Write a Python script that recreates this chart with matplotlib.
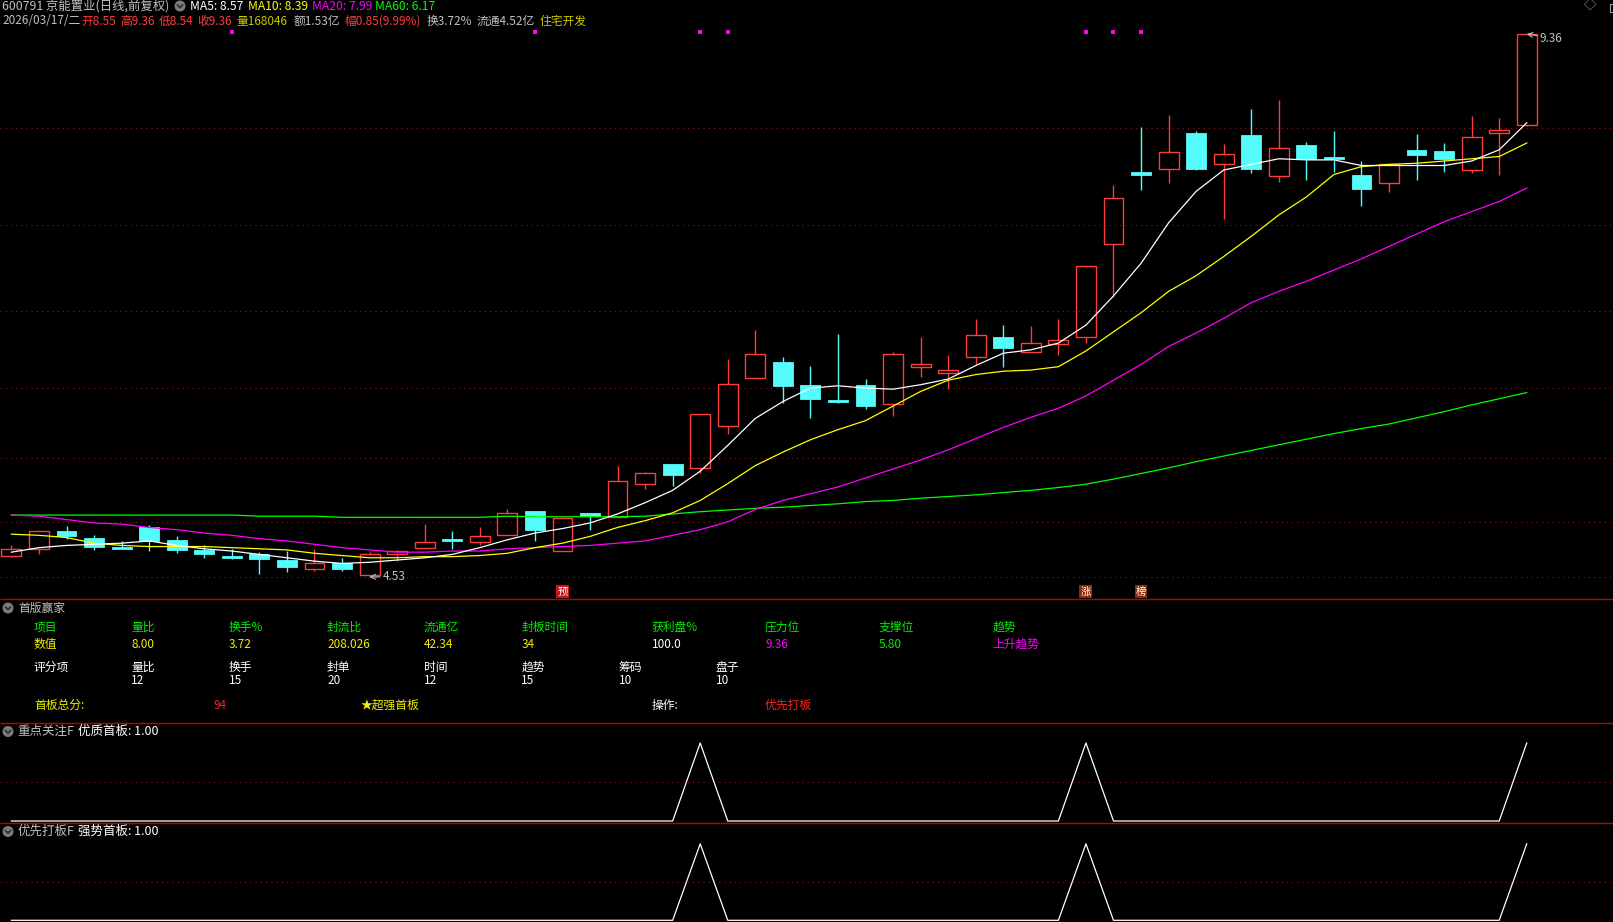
import numpy as np
import matplotlib
matplotlib.use('Agg')
import matplotlib.pyplot as plt
from matplotlib.patches import Rectangle, Circle

plt.rcParams['font.family'] = ['Noto Sans CJK SC', 'DejaVu Sans']

# daily candles, oldest first
opens = [4.72, 4.78, 4.94, 4.88, 4.80, 4.97, 4.86, 4.77, 4.72, 4.73,
         4.68, 4.60, 4.65, 4.55, 4.73, 4.79, 4.87, 4.84, 4.90, 5.12,
         4.76, 5.10, 5.06, 5.36, 5.53, 5.50, 5.87, 6.30, 6.44, 6.24,
         6.10, 6.24, 6.07, 6.40, 6.34, 6.49, 6.66, 6.53, 6.60, 6.66,
         7.49, 8.13, 8.16, 8.48, 8.20, 8.46, 8.10, 8.37, 8.27, 8.11,
         8.03, 8.33, 8.32, 8.15, 8.48, 8.55]
highs = [4.81, 4.94, 4.98, 4.90, 4.85, 4.99, 4.89, 4.81, 4.78, 4.75,
         4.76, 4.78, 4.70, 4.75, 4.77, 5.00, 4.94, 4.97, 5.13, 5.12,
         5.05, 5.10, 5.52, 5.46, 5.53, 5.98, 6.47, 6.73, 6.49, 6.41,
         6.69, 6.29, 6.53, 6.66, 6.50, 6.82, 6.77, 6.76, 6.82, 7.30,
         8.02, 8.53, 8.64, 8.50, 8.38, 8.69, 8.77, 8.40, 8.50, 8.23,
         8.20, 8.47, 8.39, 8.63, 8.61, 9.36]
lows = [4.71, 4.73, 4.87, 4.77, 4.78, 4.76, 4.74, 4.70, 4.69, 4.56,
        4.57, 4.58, 4.58, 4.53, 4.67, 4.79, 4.78, 4.81, 4.90, 4.85,
        4.76, 4.95, 5.06, 5.31, 5.34, 5.45, 5.80, 6.30, 6.08, 5.94,
        6.08, 6.02, 5.96, 6.31, 6.20, 6.42, 6.40, 6.53, 6.50, 6.61,
        7.02, 7.97, 8.03, 8.15, 7.71, 8.12, 8.04, 8.06, 8.13, 7.83,
        7.95, 8.06, 8.13, 8.12, 8.11, 8.54]
closes = [4.78, 4.94, 4.89, 4.80, 4.78, 4.85, 4.77, 4.73, 4.70, 4.69,
          4.62, 4.65, 4.60, 4.73, 4.76, 4.84, 4.85, 4.89, 5.10, 4.95,
          5.05, 5.07, 5.38, 5.45, 5.44, 5.98, 6.25, 6.51, 6.23, 6.11,
          6.09, 6.05, 6.51, 6.42, 6.37, 6.68, 6.57, 6.61, 6.64, 7.30,
          7.90, 8.11, 8.31, 8.16, 8.29, 8.16, 8.35, 8.25, 8.25, 7.98,
          8.20, 8.28, 8.25, 8.44, 8.51, 9.36]

ma5 = [4.75, 4.79, 4.81, 4.82, 4.83, 4.85, 4.81, 4.78, 4.76, 4.73,
       4.70, 4.67, 4.65, 4.66, 4.68, 4.70, 4.73, 4.79, 4.86, 4.92,
       4.96, 5.01, 5.09, 5.19, 5.30, 5.47, 5.70, 5.94, 6.09, 6.21,
       6.23, 6.21, 6.20, 6.24, 6.29, 6.41, 6.52, 6.55, 6.61, 6.77,
       7.03, 7.32, 7.68, 7.96, 8.15, 8.20, 8.25, 8.24, 8.24, 8.19,
       8.19, 8.19, 8.19, 8.23, 8.33, 8.57]
ma10 = [4.91, 4.90, 4.88, 4.83, 4.81, 4.80, 4.80, 4.80, 4.79, 4.78,
        4.77, 4.74, 4.72, 4.70, 4.70, 4.71, 4.71, 4.72, 4.74, 4.79,
        4.83, 4.89, 4.97, 5.03, 5.10, 5.21, 5.36, 5.52, 5.64, 5.75,
        5.84, 5.92, 6.05, 6.18, 6.28, 6.33, 6.36, 6.37, 6.40, 6.54,
        6.71, 6.88, 7.07, 7.21, 7.38, 7.56, 7.75, 7.91, 8.11, 8.18,
        8.20, 8.21, 8.23, 8.25, 8.27, 8.39]
ma20 = [5.08, 5.07, 5.04, 5.01, 5.00, 4.97, 4.95, 4.92, 4.90, 4.87,
        4.85, 4.82, 4.79, 4.77, 4.75, 4.75, 4.76, 4.76, 4.78, 4.79,
        4.80, 4.81, 4.83, 4.85, 4.90, 4.95, 5.02, 5.13, 5.21, 5.27,
        5.33, 5.41, 5.49, 5.57, 5.66, 5.76, 5.86, 5.95, 6.03, 6.14,
        6.28, 6.42, 6.58, 6.70, 6.83, 6.97, 7.07, 7.16, 7.26, 7.36,
        7.47, 7.58, 7.69, 7.78, 7.87, 7.99]
ma60 = [5.08, 5.08, 5.08, 5.08, 5.08, 5.08, 5.08, 5.08, 5.08, 5.07,
        5.07, 5.07, 5.06, 5.06, 5.06, 5.06, 5.06, 5.06, 5.07, 5.065,
        5.065, 5.065, 5.065, 5.07, 5.09, 5.11, 5.125, 5.14, 5.15, 5.165,
        5.18, 5.20, 5.21, 5.23, 5.245, 5.26, 5.28, 5.30, 5.325, 5.355,
        5.40, 5.45, 5.50, 5.555, 5.605, 5.655, 5.705, 5.755, 5.805, 5.85,
        5.89, 5.945, 6.00, 6.06, 6.115, 6.17]

grid_levels = [8.52, 7.66, 6.90, 6.21, 5.59, 5.02, 4.53]

signal_days = [25, 39, 55]          # 优质首板 / 强势首板 triggers
dot_days = [8, 19, 25, 26, 39, 40, 41]
tag_days = [20, 39, 41]
tag_text = ['预', '涨', '榜']
tag_bg = ['#c81414', '#8c2a0c', '#8c2a0c']

n = len(closes)
x = np.arange(n)
sig = np.zeros(n)
sig[signal_days] = 1.0

RED = '#ff3c3c'
CYAN = '#54fcfc'
GRAY = '#c0c0c0'
GRID = '#a01414'
SEP = '#c00000'
W, H = 1613, 922
XLIM = (-0.414, 58.13)

fig = plt.figure(figsize=(W / 100, H / 100), dpi=100, facecolor='black')


def rect(top, bottom):
    return [0, 1 - bottom / H, 1, (bottom - top) / H]


# ---- main price panel
ax = fig.add_axes(rect(0, 599))
ax.set_xlim(*XLIM)
ax.set_ylim(4.3333, 9.6625)
ax.axis('off')
for g in grid_levels:
    ax.axhline(g, color=GRID, lw=0.75, ls=(0, (1, 4)), zorder=1)

bw = 0.72
for i in x:
    o, h, l, c = opens[i], highs[i], lows[i], closes[i]
    if c >= o:
        ax.add_patch(Rectangle((i - bw / 2, o), bw, c - o, fill=False,
                               ec=RED, lw=1.0, zorder=3))
        ax.vlines(i, c, h, color=RED, lw=1.0, zorder=3)
        ax.vlines(i, l, o, color=RED, lw=1.0, zorder=3)
    else:
        ax.vlines(i, l, h, color=CYAN, lw=1.0, zorder=3)
        ax.add_patch(Rectangle((i - bw / 2, c), bw, max(o - c, 0.012),
                               fc=CYAN, ec=CYAN, lw=0.6, zorder=3))

ax.plot(x, ma60, color='#00ff00', lw=0.9, zorder=4)
ax.plot(x, ma20, color='#ff00ff', lw=0.9, zorder=4)
ax.plot(x, ma10, color='#ffff00', lw=0.9, zorder=4)
ax.plot(x, ma5, color='white', lw=0.9, zorder=4)

hi = int(np.argmax(highs))
lo = int(np.argmin(lows))
ax.annotate(f'{highs[hi]:.2f}', xy=(hi, highs[hi]), xytext=(13, -4),
            textcoords='offset pixels', color=GRAY, fontsize=8.5,
            ha='left', va='center',
            arrowprops=dict(arrowstyle='->', color=GRAY, lw=0.8,
                            shrinkA=0, shrinkB=0))
ax.annotate(f'{lows[lo]:.2f}', xy=(lo, lows[lo]), xytext=(13, 0),
            textcoords='offset pixels', color=GRAY, fontsize=8.5,
            ha='left', va='center',
            arrowprops=dict(arrowstyle='->', color=GRAY, lw=0.8,
                            shrinkA=0, shrinkB=0))

tr = ax.get_xaxis_transform()
ax.scatter(dot_days, [0.9466] * len(dot_days), transform=tr, marker='s',
           s=5, color='#ff00ff', lw=0, zorder=5)
for d, t, bg in zip(tag_days, tag_text, tag_bg):
    ax.text(d, 0.0125, t, transform=tr, ha='center', va='center',
            fontsize=7.5, color='white', zorder=5,
            bbox=dict(boxstyle='square,pad=0.12', fc=bg, ec='none'))

# ---- signal panels
for top, bottom, ylim in [(724, 822, (-0.0128, 1.2436)),
                          (824, 922, (-0.0222, 1.259))]:
    a = fig.add_axes(rect(top, bottom))
    a.set_xlim(*XLIM)
    a.set_ylim(*ylim)
    a.axis('off')
    a.axhline(0.5, color=GRID, lw=0.75, ls=(0, (1, 4)))
    a.plot(x, sig, color='white', lw=0.9)

# ---- overlay for captions
ov = fig.add_axes([0, 0, 1, 1])
ov.set_xlim(0, W)
ov.set_ylim(H, 0)
ov.axis('off')
ov.patch.set_alpha(0)
ov.hlines([599, 723, 823], 0, W, color=SEP, lw=1.0)


def icon(cx, cy):
    ov.add_patch(Circle((cx, cy), 5.5, color='#7c7c7c', lw=0))
    ov.plot([cx - 2.6, cx, cx + 2.6], [cy - 1.0, cy + 1.6, cy - 1.0],
            color='#2a2a2a', lw=1.1)


def txt(px, py, s, color, size=8.5):
    ov.text(px, py, s, color=color, fontsize=size, ha='left', va='center')


# header line 1
txt(2, 6.5, '600791 京能置业(日线,前复权)', GRAY, 8.9)
icon(180, 6)
txt(190, 6.5, f'MA5: {ma5[-1]:.2f}', 'white', 8.7)
txt(248, 6.5, f'MA10: {ma10[-1]:.2f}', '#ffff00', 8.7)
txt(312, 6.5, f'MA20: {ma20[-1]:.2f}', '#ff00ff', 8.7)
txt(375, 6.5, f'MA60: {ma60[-1]:.2f}', '#00ff00', 8.7)
txt(1584, 6.5, '◇', '#a0a0a0', 9)
ov.add_patch(Rectangle((1610, 4), 10, 8, fill=False, ec='#a0a0a0', lw=0.8))

# header line 2
chg = closes[-1] - closes[-2]
txt(2, 21, '2026/03/17/二', GRAY)
txt(81, 21, f'开{opens[-1]:.2f}', RED)
txt(120, 21, f'高{highs[-1]:.2f}', RED)
txt(159, 21, f'低{lows[-1]:.2f}', RED)
txt(197, 21, f'收{closes[-1]:.2f}', RED)
txt(236, 21, '量168046', '#c8c800')
txt(294, 21, '额1.53亿', GRAY)
txt(344, 21, f'幅{chg:.2f}(9.99%)', RED)
txt(427, 21, '换3.72%', GRAY)
txt(477, 21, '流通4.52亿', GRAY)
txt(540, 21, '住宅开发', '#c8c800')

# 首版赢家 table
GREEN = '#00ee00'
YEL = '#f0f000'
MAG = '#ff00ff'
icon(8, 608)
txt(18, 608, '首版赢家', GRAY)
cols = [34, 131, 228.6, 327, 424, 521.4, 651.8, 765, 878.6, 992.8]
row1 = ['项目', '量比', '换手%', '封流比', '流通亿', '封板时间', '获利盘%',
        '压力位', '支撑位', '趋势']
row2 = ['数值', '8.00', '3.72', '208.026', '42.34', '34', '100.0',
        '9.36', '5.80', '上升趋势']
row2_c = [YEL, YEL, YEL, YEL, YEL, YEL, 'white', MAG, GREEN, MAG]
for cx, s in zip(cols, row1):
    txt(cx, 627, s, GREEN)
for cx, s, c in zip(cols, row2, row2_c):
    txt(cx, 644, s, c)
score_cols = [131, 228.6, 327, 424, 521.4, 618.6, 715.7]
score_names = ['量比', '换手', '封单', '时间', '趋势', '筹码', '盘子']
score_vals = ['12', '15', '20', '12', '15', '10', '10']
txt(34, 667, '评分项', 'white')
for cx, s, v in zip(score_cols, score_names, score_vals):
    txt(cx, 667, s, 'white')
    txt(cx, 680.5, v, 'white')
txt(34, 705, '首板总分:', YEL)
txt(213.6, 705, '94', '#ff2020')
txt(360.6, 705, '★超强首板', YEL)
txt(651.8, 705, '操作:', 'white')
txt(765, 705, '优先打板', '#ff2020')

# signal panel captions
icon(8, 731.5)
txt(17.5, 731.5, '重点关注F', GRAY, 9)
txt(77.7, 731.5, f'优质首板: {sig[-1]:.2f}', 'white', 9)
icon(8, 831.5)
txt(17.5, 831.5, '优先打板F', GRAY, 9)
txt(77.7, 831.5, f'强势首板: {sig[-1]:.2f}', 'white', 9)

fig.savefig('out.png', dpi=100, facecolor='black')
